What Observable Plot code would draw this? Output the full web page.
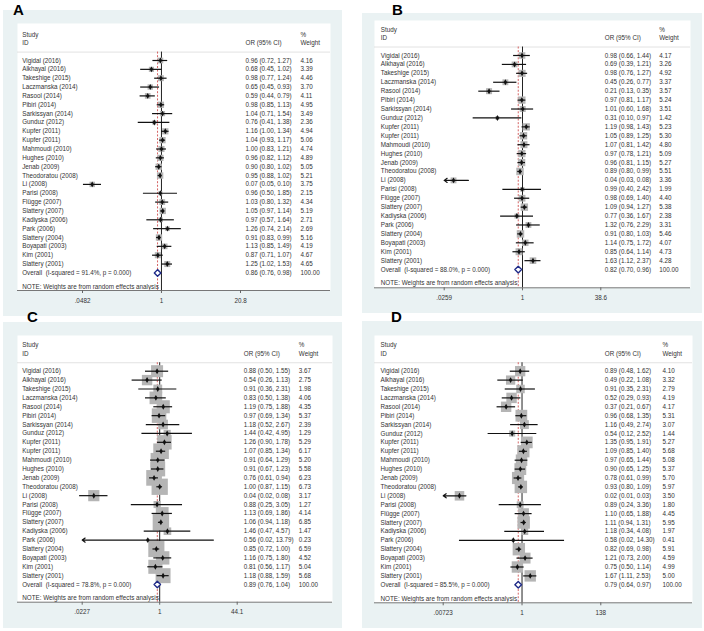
<!DOCTYPE html>
<html><head><meta charset="utf-8">
<script src="https://cdn.jsdelivr.net/npm/d3@7"></script>
<script src="https://cdn.jsdelivr.net/npm/@observablehq/plot@0.6"></script>
<style>
html,body{margin:0;padding:0;background:#fff;}
#fig{position:relative;width:704px;height:631px;overflow:hidden;font-family:"Liberation Sans",Arial,sans-serif;}
.panel{position:absolute;}
.panel svg{display:block;max-width:none;}
.letter{position:absolute;font:bold 15px/15px "Liberation Sans",Arial,sans-serif;color:#000;}
</style></head><body><div id="fig"></div>
<script>
// ---- data ----
const studies = ["Vigidal (2016)","Alkhayal (2016)","Takeshige (2015)","Laczmanska (2014)","Rasool (2014)","Pibiri (2014)","Sarkissyan (2014)","Gunduz (2012)","Kupfer (2011)","Kupfer (2011)","Mahmoudi (2010)","Hughes (2010)","Jenab (2009)","Theodoratou (2008)","Li (2008)","Parisi (2008)","Flügge (2007)","Slattery (2007)","Kadiyska (2006)","Park (2006)","Slattery (2004)","Boyapati (2003)","Kim (2001)","Slattery (2001)"];

const orA = [0.96,0.68,0.98,0.65,0.59,0.98,1.04,0.76,1.16,1.04,1.00,0.96,0.90,0.95,0.07,0.96,1.03,1.05,0.97,1.26,0.91,1.13,0.87,1.25];
const loA = [0.72,0.45,0.77,0.45,0.44,0.85,0.71,0.41,1.00,0.93,0.83,0.82,0.80,0.88,0.05,0.50,0.80,0.97,0.57,0.74,0.83,0.85,0.71,1.02];
const hiA = [1.27,1.02,1.24,0.93,0.79,1.13,1.54,1.38,1.34,1.17,1.21,1.12,1.02,1.02,0.10,1.85,1.32,1.14,1.64,2.14,0.99,1.49,1.07,1.53];
const wA  = [4.16,3.39,4.46,3.70,4.11,4.95,3.49,2.36,4.94,5.06,4.74,4.89,5.05,5.21,3.75,2.15,4.34,5.19,2.71,2.69,5.16,4.19,4.67,4.65];
const overallA = [0.86,0.76,0.98]; const isqA = "91.4%";
const ticksA = [0.0482,1,20.8]; const tickLabelsA = [".0482","1","20.8"];
const arrowRowsA = [];

const orB = [0.98,0.69,0.98,0.45,0.21,0.97,1.01,0.31,1.19,1.05,1.07,0.97,0.96,0.89,0.04,0.99,0.98,1.09,0.77,1.32,0.91,1.14,0.85,1.63];
const loB = [0.66,0.39,0.76,0.26,0.13,0.81,0.60,0.10,0.98,0.89,0.81,0.78,0.81,0.80,0.03,0.40,0.69,0.94,0.36,0.76,0.80,0.75,0.64,1.12];
const hiB = [1.44,1.21,1.27,0.77,0.35,1.17,1.68,0.97,1.43,1.25,1.42,1.21,1.15,0.99,0.08,2.42,1.40,1.27,1.67,2.29,1.03,1.72,1.14,2.37];
const wB  = [4.17,3.26,4.92,3.37,3.57,5.24,3.51,1.42,5.23,5.30,4.80,5.09,5.27,5.51,3.36,1.99,4.40,5.38,2.38,3.31,5.46,4.07,4.73,4.28];
const overallB = [0.82,0.70,0.96]; const isqB = "88.0%";
const ticksB = [0.0259,1,38.6]; const tickLabelsB = [".0259","1","38.6"];
const arrowRowsB = [14];

const orC = [0.88,0.54,0.91,0.83,1.19,0.97,1.18,1.44,1.26,1.07,0.91,0.91,0.76,1.00,0.04,0.88,1.13,1.06,1.46,0.56,0.85,1.16,0.81,1.18];
const loC = [0.50,0.26,0.36,0.50,0.75,0.69,0.52,0.42,0.90,0.85,0.64,0.67,0.61,0.87,0.02,0.25,0.69,0.94,0.47,0.02,0.72,0.75,0.56,0.88];
const hiC = [1.55,1.13,2.31,1.38,1.88,1.34,2.67,4.95,1.78,1.34,1.29,1.23,0.94,1.15,0.08,3.05,1.86,1.18,4.57,13.79,1.00,1.80,1.17,1.59];
const wC  = [3.67,2.75,1.98,4.06,4.35,5.37,2.39,1.29,5.29,6.17,5.20,5.58,6.23,6.73,3.17,1.27,4.14,6.85,1.47,0.23,6.59,4.52,5.04,5.68];
const overallC = [0.89,0.76,1.04]; const isqC = "78.8%";
const ticksC = [0.0227,1,44.1]; const tickLabelsC = [".0227","1","44.1"];
const arrowRowsC = [19];

const orD = [0.89,0.49,0.91,0.52,0.37,0.96,1.16,0.54,1.35,1.09,0.97,0.90,0.78,0.93,0.02,0.89,1.10,1.11,1.18,0.58,0.82,1.21,0.75,1.67];
const loD = [0.48,0.22,0.35,0.29,0.21,0.68,0.49,0.12,0.95,0.85,0.65,0.65,0.61,0.80,0.01,0.24,0.65,0.94,0.34,0.02,0.69,0.73,0.50,1.11];
const hiD = [1.62,1.08,2.31,0.93,0.67,1.35,2.74,2.52,1.91,1.40,1.44,1.25,0.99,1.09,0.03,3.36,1.88,1.31,4.08,14.30,0.98,2.00,1.14,2.53];
const wD  = [4.10,3.32,2.79,4.19,4.17,5.31,3.07,1.44,5.27,5.68,5.08,5.37,5.70,5.97,3.50,1.80,4.45,5.95,1.97,0.41,5.91,4.59,4.99,5.00];
const overallD = [0.79,0.64,0.97]; const isqD = "85.5%";
const ticksD = [0.00723,1,138]; const tickLabelsD = [".00723","1","138"];
const arrowRowsD = [14];

// ---- layout ----
const panels = [
  {letter:"A", lx:13, ly:2.3, or:orA, lo:loA, hi:hiA, w:wA, overall:overallA, isq:isqA, ticks:ticksA, tickLabels:tickLabelsA, arrows:arrowRowsA,
   light:{x:3,y:10,w:339,h:306}, white:{x:17,y:23,r:330,b:290}, xpx:[82,240], row0:60, step:8.85, tx:{label:4.7, or:228, wt:283}, R10:5.0},
  {letter:"B", lx:392, ly:2.3, or:orB, lo:loB, hi:hiB, w:wB, overall:overallB, isq:isqB, ticks:ticksB, tickLabels:tickLabelsB, arrows:arrowRowsB,
   light:{x:362,y:13,w:340,h:300}, white:{x:374,y:20,r:690,b:287.3}, xpx:[443.7,600.3], row0:55, step:8.92, tx:{label:6.3, or:230.3, wt:284.7}, R10:5.7},
  {letter:"C", lx:27, ly:308.5, or:orC, lo:loC, hi:hiC, w:wC, overall:overallC, isq:isqC, ticks:ticksC, tickLabels:tickLabelsC, arrows:arrowRowsC,
   light:{x:3,y:322,w:339,h:306}, white:{x:17,y:335,r:332,b:601.7}, xpx:[81.7,236.7], row0:370.7, step:8.89, tx:{label:4.7, or:226.3, wt:281.3}, R10:11.2},
  {letter:"D", lx:391, ly:308.5, or:orD, lo:loD, hi:hiD, w:wD, overall:overallD, isq:isqD, ticks:ticksD, tickLabels:tickLabelsD, arrows:arrowRowsD,
   light:{x:362,y:321,w:340,h:307}, white:{x:374,y:335,r:692,b:602.3}, xpx:[442.7,600.3], row0:370.7, step:8.9, tx:{label:6, or:230.3, wt:288}, R10:9.1}
];

const fig = document.getElementById("fig");
const fmt = d3.format(".2f");
const FS = 6.3, TXT = "#333", FONT = "'Liberation Sans', Arial, sans-serif";
const sepRow = -0.95, studyRow = -2.9, idRow = -1.95, noteRow = 25.55;

for (const cfg of panels) {
  const {light, white} = cfg;
  const rows = studies.map((name,i)=>({i, name, est:cfg.or[i], lo:cfg.lo[i], hi:cfg.hi[i], w:cfg.w[i], arrow:cfg.arrows.includes(i)}));
  const ovRow = studies.length;
  const yTop = (white.y - cfg.row0)/cfg.step, yBot = (white.b - cfg.row0)/cfg.step;
  const tickLen = 3 / cfg.step;
  // x domain spans the whole plot region; tick pixel positions anchor the log scale
  const l0 = Math.log(cfg.ticks[0]), l2 = Math.log(cfg.ticks[2]);
  const perPx = (l2 - l0) / (cfg.xpx[1] - cfg.xpx[0]);
  const xDomain = [Math.exp(l0 + (white.x - cfg.xpx[0]) * perPx), Math.exp(l0 + (white.r - cfg.xpx[0]) * perPx)];
  const [oe, ol, oh] = cfg.overall;
  const diamond = [{x:ol,y:ovRow},{x:oe,y:ovRow-0.37},{x:oh,y:ovRow},{x:oe,y:ovRow+0.37}];
  const tickData = cfg.ticks.map((t,i)=>({t, label:cfg.tickLabels[i]}));
  const tOpts = {frameAnchor:"left", textAnchor:"start", lineAnchor:"middle", fill:TXT, fontSize:FS};
  const overallRow = [{i:ovRow, name:`Overall\u00a0 (I-squared = ${cfg.isq}, p = 0.000)`, ci:`${fmt(oe)} (${fmt(ol)}, ${fmt(oh)})`, wt:"100.00"}];

  const plot = Plot.plot({
    width: light.w, height: light.h,
    marginLeft: white.x - light.x, marginRight: light.x + light.w - white.r,
    marginTop: white.y - light.y, marginBottom: light.y + light.h - white.b,
    style: {background:"#eaf2f3", fontFamily:FONT, fontSize:FS+"px", color:TXT, overflow:"visible"},
    x: {type:"log", domain:xDomain, axis:null},
    y: {domain:[yBot, yTop], axis:null},
    r: {type:"sqrt", domain:[0,10], range:[0, cfg.R10]},
    marks: [
      Plot.frame({fill:"white", stroke:"none"}),
      Plot.ruleY([sepRow], {stroke:"#dadada", strokeWidth:0.8}),
      Plot.ruleX([1], {y1:()=>sepRow, y2:()=>yBot, stroke:"#222", strokeWidth:1}),
      Plot.ruleX([oe], {y1:()=>sepRow, y2:()=>yBot, stroke:"#d05050", strokeDasharray:"2,1.6", strokeWidth:0.9}),
      Plot.dot(rows, {x:"est", y:"i", r:"w", symbol:"square", fill:"#b5b5b5", stroke:"none"}),
      Plot.ruleY(rows.filter(d=>!d.arrow), {y:"i", x1:"lo", x2:"hi", stroke:"#111", strokeWidth:1.2}),
      Plot.arrow(rows.filter(d=>d.arrow), {x1:"hi", y1:"i", x2:()=>cfg.ticks[0], y2:"i", stroke:"#111", strokeWidth:1.2, headLength:4.5, headAngle:70}),
      Plot.dot(rows, {x:"est", y:"i", symbol:"diamond", r:1.8, fill:"#111", stroke:"none"}),
      Plot.line(diamond, {x:"x", y:"y", curve:"linear-closed", stroke:"#1f2a88", strokeWidth:1.4, fill:"white"}),
      // header
      Plot.text(["Study"], {...tOpts, y:()=>studyRow, text:d=>d, dx:cfg.tx.label}),
      Plot.text(["ID"], {...tOpts, y:()=>idRow, text:d=>d, dx:cfg.tx.label}),
      Plot.text(["OR (95% CI)"], {...tOpts, y:()=>idRow, text:d=>d, dx:cfg.tx.or}),
      Plot.text(["%"], {...tOpts, y:()=>studyRow, text:d=>d, dx:cfg.tx.wt}),
      Plot.text(["Weight"], {...tOpts, y:()=>idRow, text:d=>d, dx:cfg.tx.wt}),
      // rows
      Plot.text(rows, {...tOpts, y:"i", text:"name", dx:cfg.tx.label}),
      Plot.text(rows, {...tOpts, y:"i", text:d=>`${fmt(d.est)} (${fmt(d.lo)}, ${fmt(d.hi)})`, dx:cfg.tx.or}),
      Plot.text(rows, {...tOpts, y:"i", text:d=>fmt(d.w), dx:cfg.tx.wt}),
      Plot.text(overallRow, {...tOpts, y:"i", text:"name", dx:cfg.tx.label}),
      Plot.text(overallRow, {...tOpts, y:"i", text:"ci", dx:cfg.tx.or}),
      Plot.text(overallRow, {...tOpts, y:"i", text:"wt", dx:cfg.tx.wt}),
      Plot.text(["NOTE: Weights are from random effects analysis"], {...tOpts, y:()=>noteRow, text:d=>d, dx:cfg.tx.label}),
      // axis line, ticks and tick labels
      Plot.ruleY([yBot], {stroke:"#777", strokeWidth:1}),
      Plot.ruleX(tickData, {x:"t", y1:()=>yBot, y2:()=>yBot + tickLen, stroke:"#666", strokeWidth:1}),
      Plot.text(tickData, {x:"t", y:()=>yBot, text:"label", dy:10, textAnchor:"middle", lineAnchor:"middle", fill:TXT, fontSize:FS})
    ]
  });
  const div = document.createElement("div");
  div.className = "panel";
  div.style.left = light.x + "px";
  div.style.top = light.y + "px";
  div.appendChild(plot);
  fig.appendChild(div);

  const lt = document.createElement("div");
  lt.className = "letter";
  lt.style.left = cfg.lx + "px";
  lt.style.top = cfg.ly + "px";
  lt.textContent = cfg.letter;
  fig.appendChild(lt);
}
</script>
</body></html>
